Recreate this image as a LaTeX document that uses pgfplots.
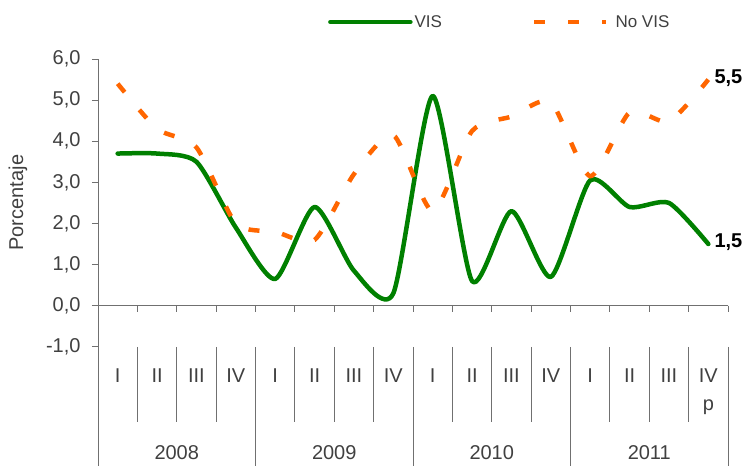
\documentclass[border=0pt]{standalone}
\usepackage{fontspec}
\setmainfont{Liberation Sans}
\usepackage{pgfplots}
\pgfplotsset{compat=1.18}
\definecolor{visgreen}{HTML}{008000}
\definecolor{novis}{HTML}{FF6600}
\definecolor{txt}{HTML}{404040}
\definecolor{axc}{HTML}{707070}
\newcommand{\fs}{\fontsize{20bp}{23bp}\selectfont}
\newcommand{\fl}{\fontsize{17bp}{20bp}\selectfont}
\pgfplotsset{
  legA/.style={legend image code/.code={\draw[##1, smooth=false] (0bp,0bp) -- (80bp,0bp);}},
  legB/.style={legend image code/.code={\draw[##1, smooth=false] (0bp,0bp) -- (72bp,0bp); \path (77bp,0bp);}},
}
\begin{document}
\begin{tikzpicture}
\begin{axis}[
  at={(0,0)}, anchor=south west,
  scale only axis, width=630bp, height=407bp,
  xmin=0, xmax=16, ymin=-3.9, ymax=6,
  axis x line=none, axis y line=left,
  y axis line style={-, draw=axc, line width=0.8bp},
  ytick={-1,0,1,2,3,4,5,6},
  tick align=outside, major tick length=6bp,
  y tick style={draw=axc, line width=0.8bp},
  yticklabel style={font=\fs, text=txt, xshift=-8bp, /pgf/number format/.cd, fixed, fixed zerofill, precision=1, use comma, assume math mode=true},
  ylabel={Porcentaje},
  every axis y label/.style={at={(axis description cs:-0.127,0.647)}, rotate=90, anchor=center, font=\fs, text=txt},
  clip=false,
  legend columns=2,
  legend style={at={(axis description cs:0.365,1.091)}, anchor=west, draw=none, fill=none, font=\fl, text=txt, inner sep=0pt,
    /tikz/every even column/.append style={column sep=88bp}},
]
\addplot[visgreen, line width=4.5bp, smooth, tension=0.4, line cap=round, line join=round, legA]
  coordinates {(0.5,3.7) (1.5,3.7) (2.5,3.5) (3.5,1.9) (4.5,0.65) (5.5,2.4) (6.5,0.85) (7.5,0.3)
               (8.5,5.1) (9.5,0.6) (10.5,2.3) (11.5,0.7) (12.5,3.05) (13.5,2.4) (14.5,2.5) (15.5,1.5)};
\addlegendentry{VIS}
\addplot[novis, line width=4.5bp, smooth, tension=0.4, dash pattern=on 11bp off 23bp, legB]
  coordinates {(0.5,5.4) (1.5,4.3) (2.5,3.85) (3.5,2.0) (4.5,1.8) (5.5,1.6) (6.5,3.2) (7.5,4.15)
               (8.5,2.3) (9.5,4.25) (10.5,4.6) (11.5,4.95) (12.5,3.15) (13.5,4.7) (14.5,4.48) (15.5,5.5)};
\addlegendentry{No VIS}
% category axis
\draw[axc, line width=0.8bp] (axis cs:0,0) -- (axis cs:16,0);
\pgfplotsinvokeforeach{1,...,16}{\draw[axc, line width=0.8bp] (axis cs:#1,0) -- ([yshift=-6bp]axis cs:#1,0);}
\pgfplotsinvokeforeach{1,2,3,5,6,7,9,10,11,13,14,15}{\draw[axc, line width=0.8bp] (axis cs:#1,-1) -- (axis cs:#1,-2.83);}
\pgfplotsinvokeforeach{4,8,12,16}{\draw[axc, line width=0.8bp] (axis cs:#1,-1) -- (axis cs:#1,-3.9);}
\pgfplotsinvokeforeach{0,4,8,12}{%
  \node[anchor=base, font=\fs, text=txt, inner sep=0] at (axis cs:#1+0.5,-1.88) {I};
  \node[anchor=base, font=\fs, text=txt, inner sep=0] at (axis cs:#1+1.5,-1.88) {II};
  \node[anchor=base, font=\fs, text=txt, inner sep=0] at (axis cs:#1+2.5,-1.88) {III};
  \node[anchor=base, font=\fs, text=txt, inner sep=0] at (axis cs:#1+3.5,-1.88) {IV};
}
\node[anchor=base, font=\fs, text=txt, inner sep=0] at (axis cs:15.5,-2.54) {p};
\node[anchor=base, font=\fs, text=txt, inner sep=0] at (axis cs:2,-3.73) {2008};
\node[anchor=base, font=\fs, text=txt, inner sep=0] at (axis cs:6,-3.73) {2009};
\node[anchor=base, font=\fs, text=txt, inner sep=0] at (axis cs:10,-3.73) {2010};
\node[anchor=base, font=\fs, text=txt, inner sep=0] at (axis cs:14,-3.73) {2011};
\node[anchor=west, font=\fs\bfseries, inner sep=0] at (axis cs:15.5,5.54) [xshift=6bp] {5,5};
\node[anchor=west, font=\fs\bfseries, inner sep=0] at (axis cs:15.5,1.55) [xshift=6bp] {1,5};
\end{axis}
\pgfresetboundingbox
\path[use as bounding box] (-98bp,0bp) rectangle (648bp,466bp);
\end{tikzpicture}
\end{document}
